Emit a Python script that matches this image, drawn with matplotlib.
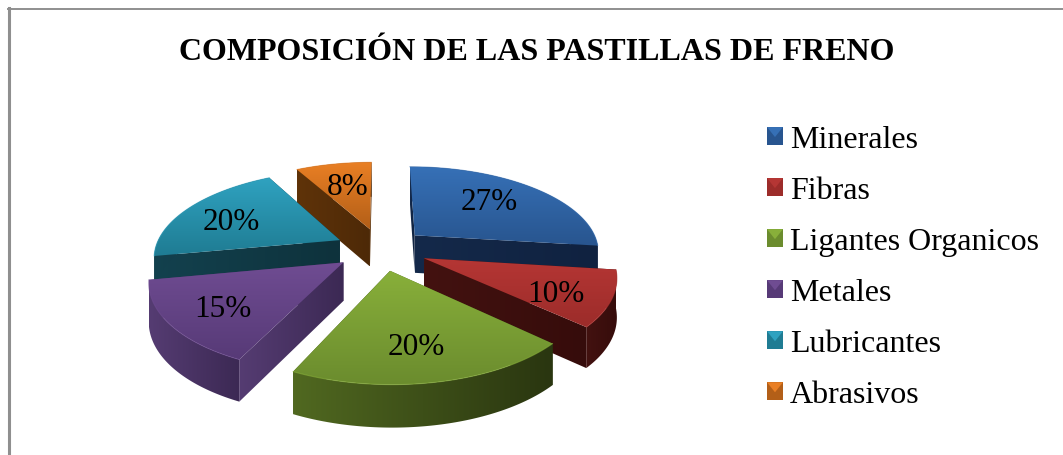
#!/usr/bin/env python3
"""Exploded 3D-look pie: composition of brake pads."""

import numpy as np
import matplotlib
matplotlib.use("Agg")
import matplotlib.pyplot as plt
from matplotlib.colors import LinearSegmentedColormap
from matplotlib.legend_handler import HandlerBase
from matplotlib.patches import Patch, Polygon, Rectangle

plt.rcParams['font.family'] = ['Liberation Serif', 'DejaVu Serif']

TITLE = 'COMPOSICIÓN DE LAS PASTILLAS DE FRENO'
categories = ['Minerales', 'Fibras', 'Ligantes Organicos', 'Metales', 'Lubricantes', 'Abrasivos']
values = [27, 10, 20, 15, 20, 8]

top_light = ['#3670b6', '#b53634', '#88af3a', '#6f4c92', '#2fa2c0', '#e97f24']
top_dark = ['#28558f', '#9c2c2a', '#6b8c2e', '#573a77', '#1f7c93', '#b35f18']
rim_left = ['#14294a', '#431210', '#506820', '#553c72', '#13414e', '#5f3309']
rim_right = ['#102240', '#360c0b', '#2a3610', '#3c2954', '#0e323c', '#4d2907']

# projection of the pie, pixels
CX, CY = 381, 249
RX, RY = 185, 85
PERSP = 0.176
EXPLODE = 0.25
DEPTH = 38

# label placement: fraction of the radius, then a small pixel nudge
label_r = [0.61, 0.68, 0.75, 0.68, 0.68, 0.60]
label_dx = [0, 8, -7, -7, -4, 1]
label_dy = [-3, 9, -2, 7, 5, 0]


def project(u, v, drop=0.0):
    w = 1 + PERSP * v
    return CX + RX * u / w, CY - RY * v / w + drop * DEPTH / np.sqrt(w)


def gradient(ax, pts, c0, c1, vertical, z):
    """Fill a polygon with a linear gradient, clipped through an image."""
    pts = np.asarray(pts)
    patch = Polygon(pts, closed=True, fc='none', ec='none', zorder=z)
    ax.add_patch(patch)
    cmap = LinearSegmentedColormap.from_list('g', [c0, c1])
    ramp = np.linspace(0, 1, 64)
    ramp = ramp[:, None] if vertical else ramp[None, :]
    im = ax.imshow(ramp, cmap=cmap, vmin=0, vmax=1, aspect='auto', origin='upper',
                   extent=(pts[:, 0].min(), pts[:, 0].max(), pts[:, 1].max(), pts[:, 1].min()),
                   interpolation='bilinear', zorder=z)
    im.set_clip_path(patch)


def wall(p0, p1):
    """Quad hanging below a top-face edge."""
    return [project(*p0), project(*p1), project(*p1, 1), project(*p0, 1)]


class BevelHandler(HandlerBase):
    def create_artists(self, legend, orig, xd, yd, w, h, fontsize, trans):
        x0, y0 = -xd, -yd
        light, dark = orig.get_facecolor(), orig.get_edgecolor()
        base = Rectangle((x0, y0), w, h, fc=dark, ec='none', transform=trans)
        tip = Polygon([(x0, y0 + h), (x0 + w, y0 + h), (x0 + w / 2, y0 + h * 0.45)],
                      fc=light, ec='none', transform=trans)
        return [base, tip]


fig = plt.figure(figsize=(10.63, 4.55), dpi=100, facecolor='white')
ax = fig.add_axes([0, 0, 1, 1])

edges = np.deg2rad(np.concatenate([[0], np.cumsum(values)]) * 360 / sum(values))
mids = (edges[:-1] + edges[1:]) / 2
order = np.argsort(-np.cos(mids))

z = 2
for i in order:
    ax_u, ax_v = EXPLODE * np.sin(mids[i]), EXPLODE * np.cos(mids[i])
    theta = np.linspace(edges[i], edges[i + 1], 80)
    rim = [(ax_u + np.sin(t), ax_v + np.cos(t)) for t in theta]
    apex = (ax_u, ax_v)

    # walls, farthest first, the top face then hides what faces away
    sides = [wall(apex, rim[0]), wall(apex, rim[-1])]
    sides.sort(key=lambda q: np.mean([p[1] for p in q]))
    for quad in sides:
        gradient(ax, quad, rim_left[i], rim_right[i], False, z)
        z += 1
    outer = [project(*p) for p in rim] + [project(*p, 1) for p in rim[::-1]]
    gradient(ax, outer, rim_left[i], rim_right[i], False, z)
    z += 1

    face = [project(*apex)] + [project(*p) for p in rim]
    gradient(ax, face, top_light[i], top_dark[i], True, z)
    z += 1
    ax.plot(*zip(*[project(*p) for p in rim]), color=top_light[i], lw=0.8, alpha=0.6,
            zorder=z, solid_capstyle='round')
    z += 1

for i in range(len(values)):
    u = (EXPLODE + label_r[i]) * np.sin(mids[i])
    v = (EXPLODE + label_r[i]) * np.cos(mids[i])
    x, y = project(u, v)
    ax.text(x + label_dx[i], y + label_dy[i], f'{values[i]}%', ha='center', va='center',
            fontsize=22.5, color='black', zorder=200)

ax.text(537, 52, TITLE, ha='center', va='center', fontsize=23, fontweight='bold', color='black')

# chart frame, only top and left are inside the crop
ax.plot([8, 1063], [8.5, 8.5], color='#8f8f8f', lw=1.4, zorder=1)
ax.plot([8.5, 8.5], [8, 455], color='#8f8f8f', lw=2.2, zorder=1)

handles = [Patch(facecolor=a, edgecolor=b) for a, b in zip(top_light, top_dark)]
ax.legend(handles, categories, loc='upper left', bbox_to_anchor=(767, 125.5),
          bbox_transform=ax.transData, frameon=False, fontsize=23, borderpad=0,
          borderaxespad=0, labelspacing=0.69, handlelength=0.5, handleheight=0.5,
          handletextpad=0.22, handler_map={Patch: BevelHandler()})

ax.set_xlim(0, 1063)
ax.set_ylim(455, 0)
ax.axis('off')

fig.savefig('out.png', dpi=100, facecolor='white')
